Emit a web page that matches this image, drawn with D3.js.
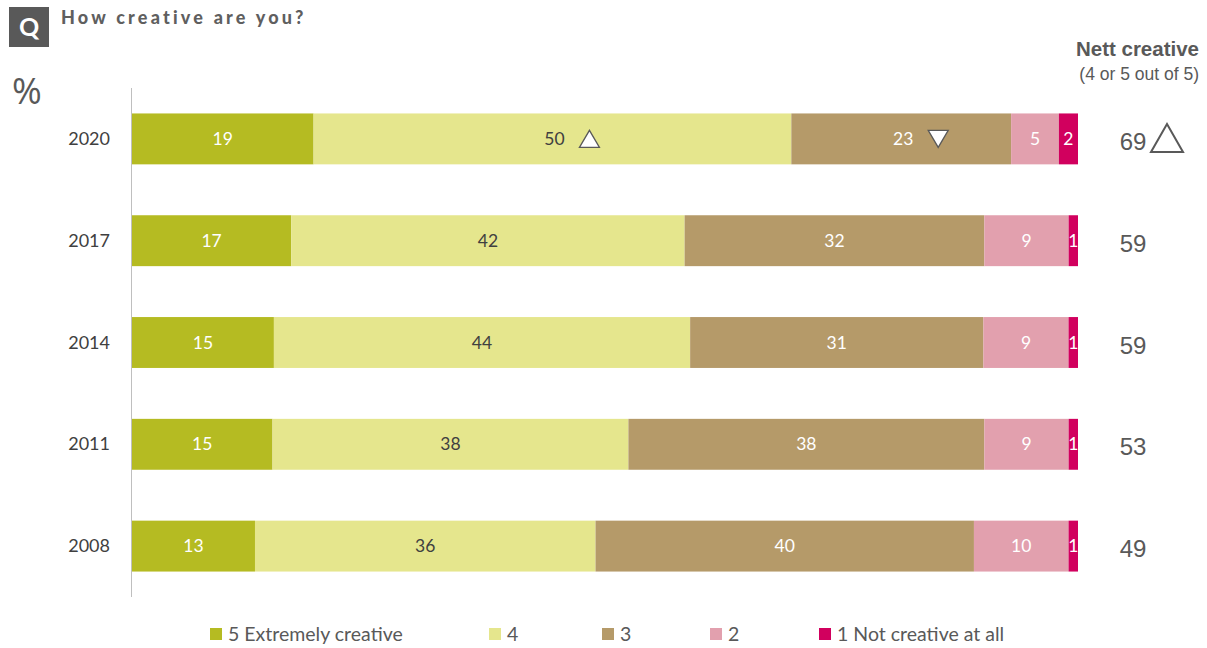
<!DOCTYPE html>
<html><head><meta charset="utf-8">
<script src="https://cdn.jsdelivr.net/npm/d3@7"></script>
<style>body{margin:0;background:#fff}svg{display:block}</style>
</head><body>
<svg id="c" width="1207" height="648"></svg>
<script>
const years = ["2020","2017","2014","2011","2008"];
const seriesNames = ["5 Extremely creative","4","3","2","1 Not creative at all"];
const s5 = [19,17,15,15,13];
const s4 = [50,42,44,38,36];
const s3 = [23,32,31,38,40];
const s2 = [5,9,9,9,10];
const s1 = [2,1,1,1,1];
const nett = [69,59,59,53,49];
// significance markers: "up", "down" or null per [year][series]
const sigSeries = [[null,"up","down",null,null],[null,null,null,null,null],[null,null,null,null,null],[null,null,null,null,null],[null,null,null,null,null]];
const nettSig = ["up",null,null,null,null];

const colors = ["#b5bb22","#e5e68d","#b59a69","#e2a0ae","#d1005e"];
const labelColors = ["#fff","#404040","#fff","#fff","#fff"];
const legendX = [210,489,602,710,819];

const svg = d3.select("#c");
const series = [s5,s4,s3,s2,s1];
const x = d3.scaleLinear().domain([0,100]).range([132,1078]);
const y = d3.scaleBand().domain(years).range([88,597]).paddingInner(0.5).paddingOuter(0.25);

// header
svg.append("rect").attr("x",9).attr("y",7).attr("width",40).attr("height",40).attr("fill","#595959");
svg.append("text").attr("x",29).attr("y",36).attr("text-anchor","middle").attr("fill","#fff")
  .attr("font-family","Lato, 'Open Sans', sans-serif").attr("font-weight","bold").attr("font-size",25).text("Q");
svg.append("text").attr("x",61).attr("y",24).attr("fill","#5f5f5f")
  .attr("font-family","Lato, 'Open Sans', sans-serif").attr("font-weight","900").attr("font-size",18)
  .attr("letter-spacing","3.2px").text("How creative are you?");
svg.append("text").attr("x",12).attr("y",104).attr("fill","#595959")
  .attr("font-family","'Open Sans', Lato, sans-serif").attr("font-size",36).text("%");

svg.append("text").attr("x",1199).attr("y",56).attr("text-anchor","end").attr("fill","#595959")
  .attr("font-family","'Liberation Sans', Arial, sans-serif").attr("font-weight","bold").attr("font-size",20.5).text("Nett creative");
svg.append("text").attr("x",1199).attr("y",80).attr("text-anchor","end").attr("fill","#595959")
  .attr("font-family","'Liberation Sans', Arial, sans-serif").attr("font-size",17.5).text("(4 or 5 out of 5)");

// axis line
svg.append("line").attr("x1",131.5).attr("x2",131.5).attr("y1",88).attr("y2",597).attr("stroke","#bfbfbf").attr("stroke-width",1);

// year labels
svg.selectAll(".yl").data(years).join("text").attr("class","yl")
  .attr("x",110).attr("y",d=>y(d)+y.bandwidth()/2+6).attr("text-anchor","end").attr("fill","#404040")
  .attr("font-family","Lato, 'Open Sans', sans-serif").attr("font-size",18).text(d=>d);

function tri(g, cx, cy, w, h, dir, sw){
  const pts = dir==="up" ? [[cx-w/2,cy+h/2],[cx+w/2,cy+h/2],[cx,cy-h/2]] : [[cx-w/2,cy-h/2],[cx+w/2,cy-h/2],[cx,cy+h/2]];
  g.append("polygon").attr("points",pts.map(p=>p.join(",")).join(" "))
   .attr("fill","#fff").attr("stroke","#595959").attr("stroke-width",sw).attr("stroke-linejoin","miter");
}

const defs = svg.append("defs");
years.forEach((yr,i)=>{
  const vals = series.map(s=>s[i]);
  const tot = d3.sum(vals);
  let cum = 0;
  const g = svg.append("g");
  vals.forEach((v,j)=>{
    const x0 = x(cum/tot*100), x1 = x((cum+v)/tot*100);
    cum += v;
    const id = "clip"+i+"_"+j;
    defs.append("clipPath").attr("id",id).append("rect").attr("x",x0).attr("y",y(yr)).attr("width",x1-x0).attr("height",y.bandwidth());
    g.append("rect").attr("x",x0).attr("y",y(yr)).attr("width",x1-x0).attr("height",y.bandwidth()).attr("fill",colors[j]);
    const cx = (x0+x1)/2, cy = y(yr)+y.bandwidth()/2;
    const sg = sigSeries[i][j];
    const tx = sg ? cx+2 : cx;
    g.append("text").attr("clip-path","url(#"+id+")").attr("x",tx).attr("y",cy+6).attr("text-anchor","middle")
      .attr("fill",labelColors[j]).attr("font-family","Lato, 'Open Sans', sans-serif").attr("font-size",17.5).text(v);
    if(sg){ tri(g, tx+35, cy, 20, 17, sg, 1.3); }
  });
  svg.append("text").attr("x",1133).attr("y",y(yr)+y.bandwidth()/2+11).attr("text-anchor","middle").attr("fill","#595959")
    .attr("font-family","'Liberation Sans', Arial, sans-serif").attr("font-size",24).text(nett[i]);
  if(nettSig[i]) tri(svg, 1167, y(yr)+y.bandwidth()/2-1, 32, 28, nettSig[i], 2);
});

// legend
const lg = svg.selectAll(".lg").data(seriesNames).join("g").attr("class","lg")
  .attr("transform",(d,i)=>`translate(${legendX[i]},634)`);
lg.append("rect").attr("x",0).attr("y",-6).attr("width",12).attr("height",12).attr("fill",(d,i)=>colors[i]);
lg.append("text").attr("x",18).attr("y",7).attr("fill","#595959")
  .attr("font-family","Lato, 'Open Sans', sans-serif").attr("font-size",19.5).text(d=>d);
</script>
</body></html>
